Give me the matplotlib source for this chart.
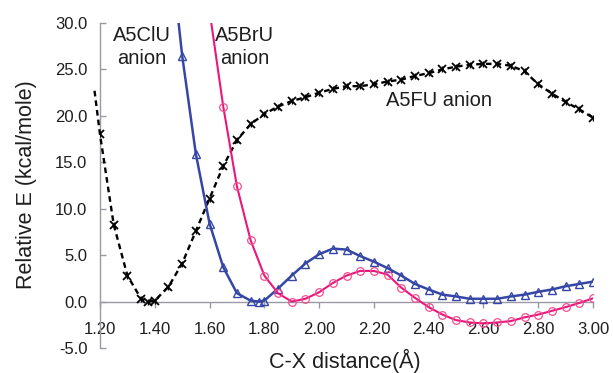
import matplotlib
matplotlib.use("Agg")
import matplotlib.pyplot as plt

plt.rcParams['font.family'] = ['Liberation Sans', 'DejaVu Sans']

# A5FU anion (black, dashed, star markers)
fu_x = [1.18, 1.20, 1.25, 1.30, 1.35, 1.375, 1.40, 1.45, 1.50, 1.55, 1.60, 1.65, 1.70, 1.75, 1.80,
        1.85, 1.90, 1.95, 2.00, 2.05, 2.10, 2.15, 2.20, 2.25, 2.30, 2.35, 2.40, 2.45, 2.50,
        2.55, 2.60, 2.65, 2.70, 2.75, 2.80, 2.85, 2.90, 2.95, 3.00]
fu_y = [22.7, 18.0, 8.3, 2.8, 0.3, 0.0, 0.1, 1.6, 4.1, 7.6, 11.1, 14.6, 17.4, 19.1, 20.2,
        21.0, 21.6, 22.0, 22.5, 22.9, 23.2, 23.2, 23.4, 23.7, 23.9, 24.3, 24.6, 25.0, 25.3,
        25.5, 25.6, 25.6, 25.4, 24.8, 23.4, 22.4, 21.5, 20.7, 19.8]

# A5ClU anion (blue, triangles)
cl_x = [1.45, 1.50, 1.55, 1.60, 1.65, 1.70, 1.75, 1.78, 1.80, 1.85, 1.90, 1.95, 2.00, 2.05,
        2.10, 2.15, 2.20, 2.25, 2.30, 2.35, 2.40, 2.45, 2.50, 2.55, 2.60, 2.65, 2.70, 2.75,
        2.80, 2.85, 2.90, 2.95, 3.00]
cl_y = [40.0, 26.5, 15.9, 8.4, 3.7, 0.9, 0.1, 0.0, 0.1, 1.4, 2.8, 4.1, 5.1, 5.7,
        5.6, 4.9, 4.3, 3.6, 2.8, 1.9, 1.3, 0.75, 0.55, 0.3, 0.3, 0.3, 0.55, 0.75,
        1.05, 1.3, 1.65, 1.9, 2.15]

# A5BrU anion (pink, circles)
br_x = [1.60, 1.65, 1.70, 1.75, 1.80, 1.85, 1.90, 1.95, 2.00, 2.05, 2.10, 2.15, 2.20, 2.25,
        2.30, 2.35, 2.40, 2.45, 2.50, 2.55, 2.60, 2.65, 2.70, 2.75, 2.80, 2.85, 2.90, 2.95, 3.00]
br_y = [31.3, 21.0, 12.4, 6.6, 2.8, 0.9, 0.0, 0.3, 1.0, 2.0, 2.8, 3.3, 3.3, 2.9,
        1.5, 0.4, -0.6, -1.4, -2.0, -2.25, -2.35, -2.25, -2.1, -1.7, -1.4, -1.0, -0.6, -0.15, 0.35]

x_ticks = [1.20, 1.40, 1.60, 1.80, 2.00, 2.20, 2.40, 2.60, 2.80, 3.00]
y_ticks = [-5.0, 0.0, 5.0, 10.0, 15.0, 20.0, 25.0, 30.0]

blue = '#3646a6'
pink = '#e8177c'
axis_gray = '#9a9aa6'
txt = '#1e1e1e'

fig = plt.figure(figsize=(6.13, 3.73), dpi=100)
ax = fig.add_axes([100/613, 1-348/373, 493/613, 325/373])

# A5FU: dashed line (extends slightly past the axis), markers from 1.20 on
ax.plot(fu_x, fu_y, color='black', lw=1.7, dashes=(2.4, 1.7), clip_on=False, zorder=3)
ax.plot(fu_x[1:], fu_y[1:], ls='none', marker='x', ms=5.5, mew=1.3, color='black', zorder=4)
ax.plot(fu_x[1:], fu_y[1:], ls='none', marker='|', ms=4.5, mew=1.0, color='black', zorder=4)

ax.plot(cl_x, cl_y, color=blue, lw=1.8, zorder=5)
ax.plot(cl_x, cl_y, ls='none', marker='^', ms=5.8, mfc='none', mec=blue, mew=1.0, zorder=5)

ax.plot(br_x, br_y, color=pink, lw=1.5, zorder=6)
ax.plot(br_x, br_y, ls='none', marker='o', ms=5.5, mfc='none', mec='#f0508f', mew=0.9, zorder=6)

ax.set_xlim(1.20, 3.00)
ax.set_ylim(-5.0, 30.0)

ax.spines['top'].set_visible(False)
ax.spines['right'].set_visible(False)
ax.spines['bottom'].set_position(('data', 0))
ax.spines['bottom'].set_color(axis_gray)
ax.spines['left'].set_color(axis_gray)
ax.spines['bottom'].set_linewidth(1.0)
ax.spines['left'].set_linewidth(1.0)

ax.set_xticks(x_ticks)
ax.set_xticklabels(['%.2f' % v for v in x_ticks])
ax.set_yticks(y_ticks)
ax.set_yticklabels(['%.1f' % v for v in y_ticks])
ax.tick_params(axis='x', direction='out', length=4, width=1, color=axis_gray, pad=11,
               labelsize=12, labelcolor=txt)
ax.tick_params(axis='y', direction='in', length=4, width=1, color=axis_gray, pad=9,
               labelsize=12, labelcolor=txt)

ax.text(1.353, 27.4, 'A5ClU\nanion', ha='center', va='center', fontsize=14.5,
        color=txt, linespacing=1.22)
ax.text(1.729, 27.4, 'A5BrU\nanion', ha='center', va='center', fontsize=14.5,
        color=txt, linespacing=1.22)
ax.text(2.437, 21.7, 'A5FU anion', ha='center', va='center', fontsize=14.5, color=txt)

fig.text(345/613, 1-361/373, 'C-X distance(Å)', ha='center', va='center', fontsize=15.5, color=txt)
fig.text(27/613, 1-185/373, 'Relative E (kcal/mole)', ha='center', va='center',
         rotation=90, fontsize=15.5, color=txt)

fig.savefig('out.png', dpi=100)
